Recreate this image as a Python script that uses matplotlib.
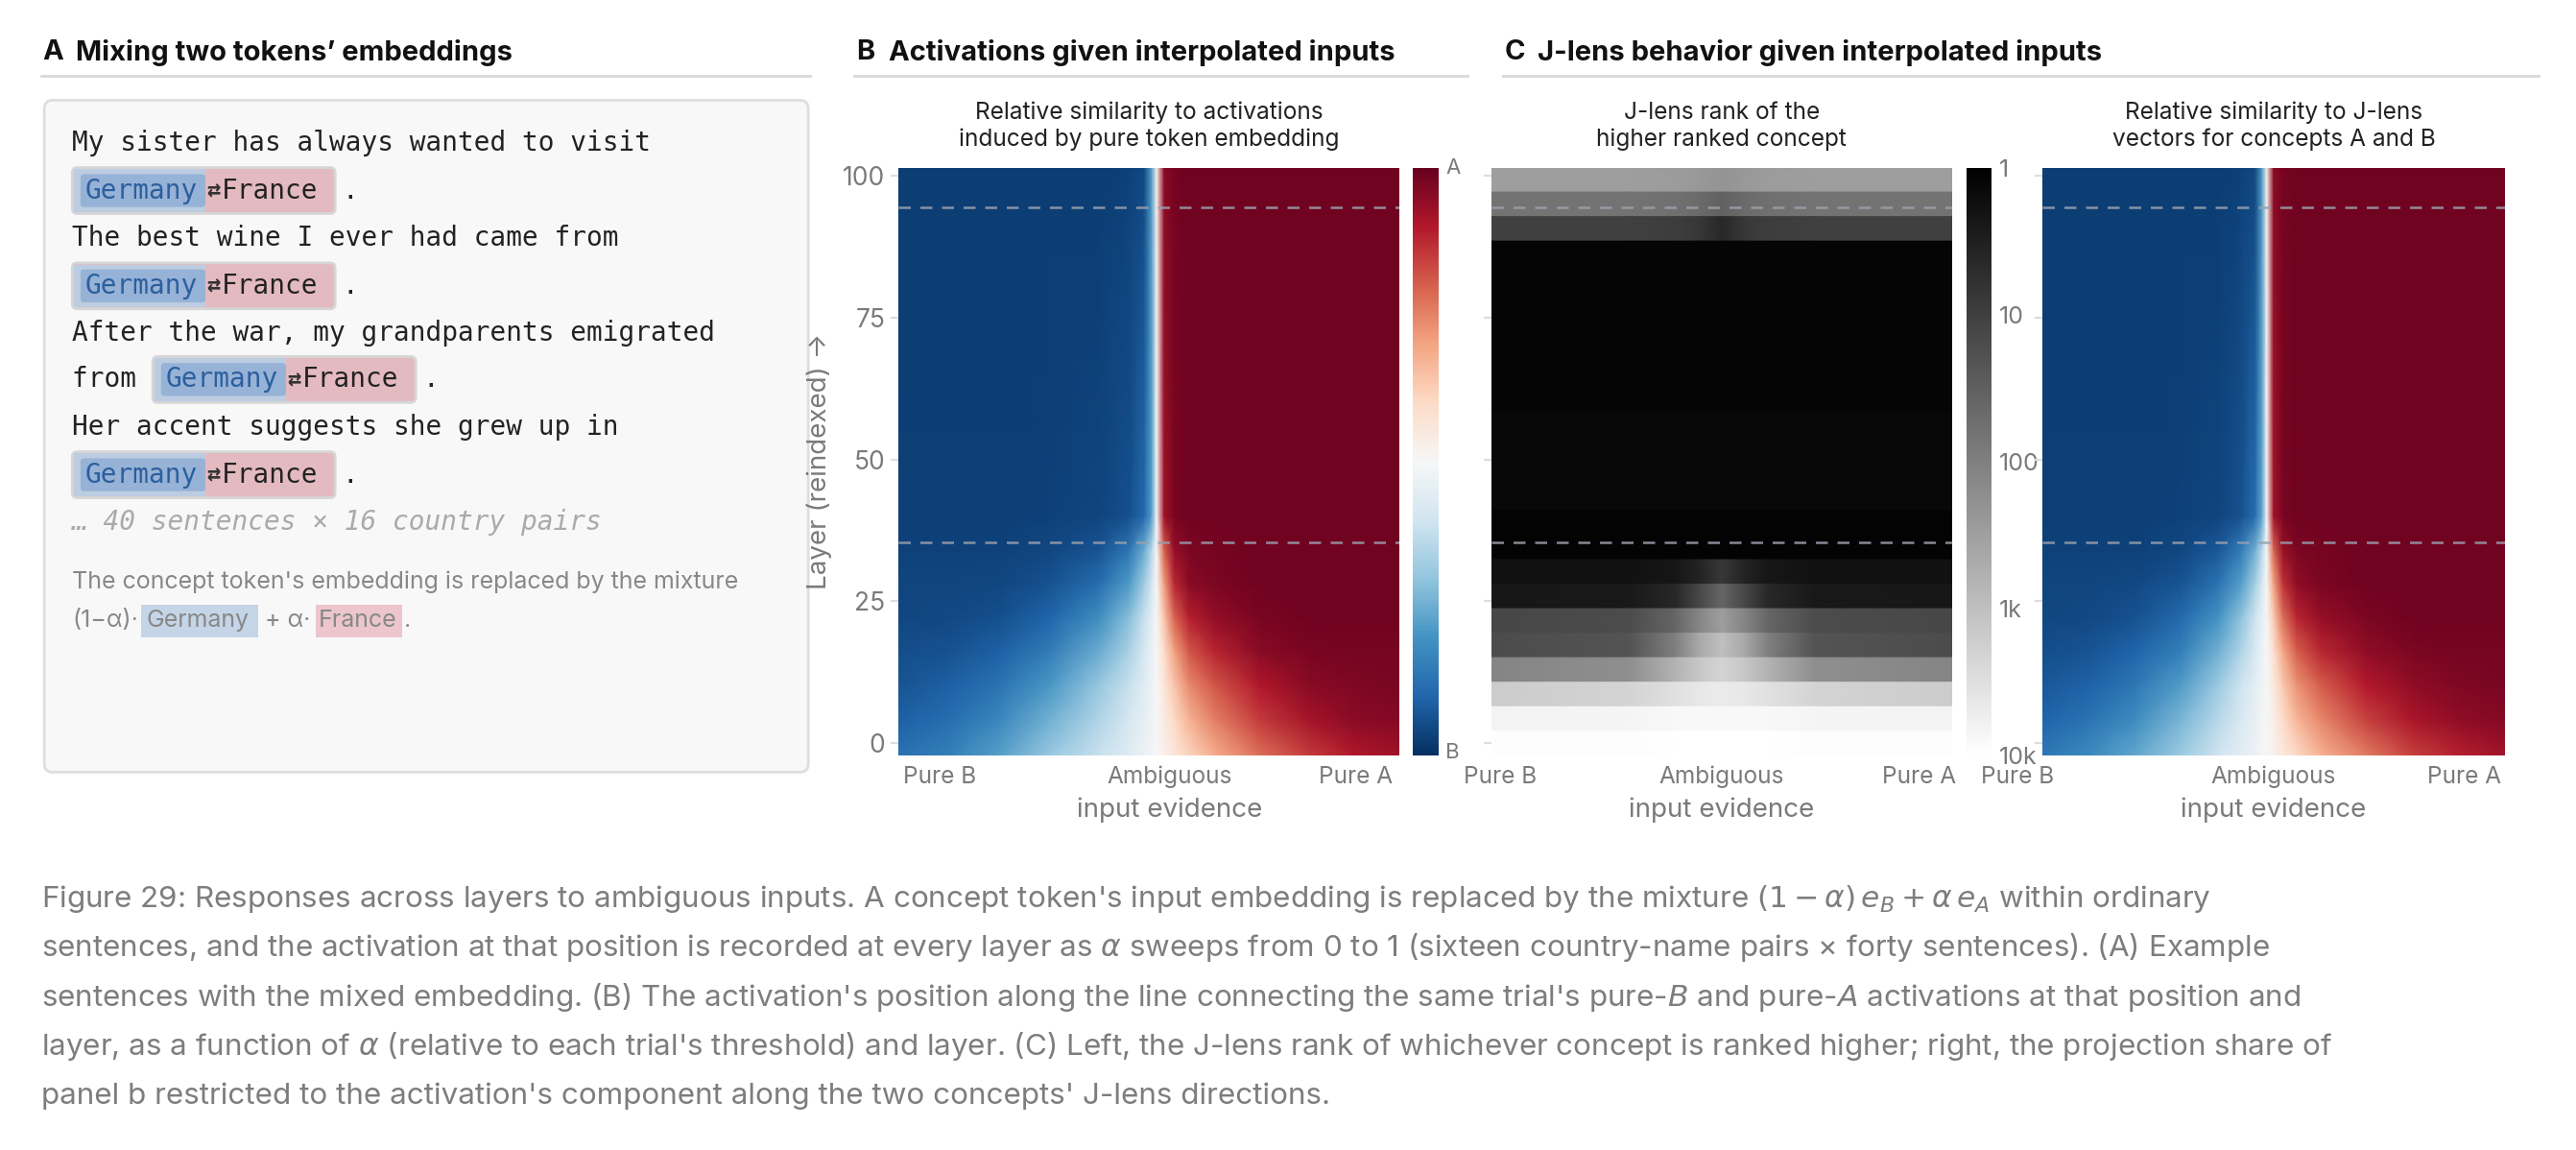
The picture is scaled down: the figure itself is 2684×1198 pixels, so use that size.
import numpy as np
import matplotlib
matplotlib.use("Agg")
import matplotlib.pyplot as plt
from matplotlib.colors import LogNorm
from matplotlib.patches import FancyBboxPatch, Rectangle

plt.rcParams['font.family'] = ['Inter', 'DejaVu Sans']

# ---------------- data ----------------
# panel B: relative similarity (-1 = pure B, +1 = pure A)
alpha_cols_b = [0, .1, .2, .3, .4, .46, .49, .505, .515, .53, .55, .58, .63, .72, .82, .91, 1]
alpha_cols = [0, .1, .2, .3, .38, .43, .46, .475, .485, .5, .52, .55, .6, .7, .8, .9, 1]
layer_rows = [-2.3, 4, 10, 16, 22, 28, 34, 40, 101.5]
sim_b = [
    [-.75, -.68, -.55, -.38, -.22, -.12, -.06, -.03, 0, .05, .12, .22, .36, .55, .7, .8, .85],
    [-.82, -.76, -.65, -.48, -.3, -.17, -.09, -.04, 0, .08, .2, .35, .5, .7, .83, .9, .92],
    [-.86, -.82, -.74, -.58, -.38, -.22, -.12, -.05, 0, .12, .28, .47, .62, .8, .9, .93, .95],
    [-.89, -.87, -.82, -.7, -.5, -.32, -.17, -.07, 0, .18, .4, .62, .76, .9, .95, .96, .96],
    [-.91, -.9, -.88, -.8, -.62, -.42, -.22, -.1, 0, .28, .58, .78, .88, .95, .97, .97, .97],
    [-.92, -.92, -.91, -.87, -.76, -.57, -.35, -.18, 0, .42, .75, .9, .94, .97, .97, .97, .97],
    [-.93, -.93, -.93, -.91, -.86, -.72, -.5, -.28, 0, .6, .87, .94, .96, .97, .97, .97, .97],
    [-.94, -.94, -.94, -.93, -.92, -.88, -.78, -.55, 0, .85, .95, .97, .97, .97, .97, .97, .97],
    [-.95, -.95, -.95, -.95, -.95, -.93, -.9, -.55, .05, .9, .96, .97, .97, .97, .97, .97, .97],
]
# panel C right: relative similarity to J-lens vectors
sim_c = [
    [-.72, -.64, -.52, -.36, -.2, -.1, -.05, -.02, 0, .04, .1, .2, .34, .52, .68, .78, .84],
    [-.8, -.74, -.63, -.46, -.28, -.15, -.08, -.03, 0, .07, .18, .33, .48, .68, .82, .89, .92],
    [-.85, -.81, -.72, -.56, -.36, -.2, -.1, -.04, 0, .1, .26, .45, .6, .79, .89, .93, .95],
    [-.89, -.86, -.8, -.68, -.48, -.3, -.15, -.06, 0, .16, .38, .6, .75, .89, .94, .96, .96],
    [-.91, -.9, -.87, -.78, -.6, -.4, -.2, -.09, 0, .26, .55, .76, .87, .94, .97, .97, .97],
    [-.92, -.92, -.9, -.86, -.74, -.55, -.33, -.16, 0, .4, .72, .89, .94, .97, .97, .97, .97],
    [-.93, -.93, -.93, -.91, -.85, -.7, -.48, -.26, 0, .58, .86, .94, .96, .97, .97, .97, .97],
    [-.94, -.94, -.94, -.93, -.92, -.87, -.76, -.52, 0, .84, .95, .97, .97, .97, .97, .97, .97],
    [-.95, -.95, -.95, -.95, -.95, -.93, -.9, -.55, .05, .9, .96, .97, .97, .97, .97, .97, .97],
]
# panel C left: J-lens rank, stored as lightness (log10(rank)/4), 24 bands top -> bottom
rank_cols = [0, .3, .4, .45, .5, .55, .6, .7, 1]
rank_light = [
    [.62, .62, .61, .6, .58, .6, .61, .62, .62],
    [.45, .45, .44, .42, .38, .42, .44, .45, .45],
    [.25, .25, .24, .22, .16, .22, .24, .25, .25],
    [.02] * 9, [.02] * 9, [.02] * 9, [.02] * 9, [.02] * 9, [.02] * 9, [.02] * 9,
    [.035] * 9, [.035] * 9, [.035] * 9, [.035] * 9,
    [.012] * 9, [.015] * 9,
    [.07, .07, .09, .14, .22, .14, .09, .07, .07],
    [.09, .1, .16, .28, .4, .28, .16, .1, .09],
    [.28, .3, .4, .52, .62, .52, .4, .3, .28],
    [.3, .33, .5, .66, .75, .66, .5, .33, .3],
    [.52, .56, .7, .78, .83, .78, .7, .56, .52],
    [.8, .83, .88, .91, .92, .91, .88, .83, .8],
    [.95, .96, .97, .97, .97, .97, .97, .96, .95],
    [.99, .99, 1, 1, 1, 1, 1, .99, .99],
]
layer_ticks = [0, 25, 50, 75, 100]
dashed_layers = [94.5, 35.3]
rank_ticks = [1, 10, 100, 1000, 10000]
rank_tick_labels = ['1', '10', '100', '1k', '10k']
x_labels = ['Pure B', 'Ambiguous', 'Pure A']

sentences = [
    ("My sister has always wanted to visit", None),
    ("", 44),
    ("The best wine I ever had came from", None),
    ("", 44),
    ("After the war, my grandparents emigrated", None),
    ("from ", 93),
    ("Her accent suggests she grew up in", None),
    ("", 44),
]

caption = [
    "Figure 29: Responses across layers to ambiguous inputs. A concept token's input embedding is replaced by the mixture $(1-\\alpha)\\,e_B+\\alpha\\,e_A$ within ordinary",
    "sentences, and the activation at that position is recorded at every layer as $\\alpha$ sweeps from 0 to 1 (sixteen country-name pairs \u00d7 forty sentences). (A) Example",
    "sentences with the mixed embedding. (B) The activation's position along the line connecting the same trial's pure-$B$ and pure-$A$ activations at that position and",
    "layer, as a function of $\\alpha$ (relative to each trial's threshold) and layer. (C) Left, the J-lens rank of whichever concept is ranked higher; right, the projection share of",
    "panel b restricted to the activation's component along the two concepts' J-lens directions.",
]

# ---------------- layout (reference pixel grid 1568 x 700) ----------------
W, H = 1568.0, 700.0
fig = plt.figure(figsize=(13.42, 5.99), dpi=200)
bg = fig.add_axes([0, 0, 1, 1])
bg.set_xlim(0, W)
bg.set_ylim(H, 0)
bg.axis('off')


def box(x0, y0, x1, y1):
    return [x0 / W, 1 - y1 / H, (x1 - x0) / W, (y1 - y0) / H]


GRAY = '#7a7a7a'
TXT = '#222222'

# section headers
for x0, x1, lbl, title in [(25, 493, 'A', "Mixing two tokens\u2019 embeddings"),
                           (520, 893, 'B', 'Activations given interpolated inputs'),
                           (915, 1545, 'C', 'J-lens behavior given interpolated inputs')]:
    bg.text(x0 + 1, 32, lbl, fontsize=10.5, fontweight='bold', color='#111', va='center')
    bg.text(x0 + 21, 32, title, fontsize=10.5, fontweight='bold', color='#111', va='center')
    bg.plot([x0, x1], [46, 46], color='#d8d8d8', lw=1)

# panel A box
bg.add_patch(FancyBboxPatch((27, 61), 465, 409, boxstyle='round,pad=0,rounding_size=5',
                            fc='#f8f8f8', ec='#dedede', lw=1))

MONO = 'DejaVu Sans Mono'


def chip(x, y):
    bg.add_patch(FancyBboxPatch((x, y - 14), 160, 28, boxstyle='round,pad=0,rounding_size=3',
                                fc='#e4bac1', ec='#d6d6d6', lw=1))
    bg.add_patch(Rectangle((x + 1, y - 13), 80, 26, fc='#bccde2', ec='none'))
    bg.add_patch(FancyBboxPatch((x + 5, y - 10), 76, 20, boxstyle='round,pad=0,rounding_size=2',
                                fc='#96b2d6', ec='none'))
    bg.text(x + 8, y, 'Germany', family=MONO, fontsize=10, color='#2c5f9e', va='center')
    bg.text(x + 82, y, '\u21c4', family=MONO, fontsize=8.5, color='#333', va='center', fontweight='bold')
    bg.text(x + 91, y, 'France', family=MONO, fontsize=10, color='#222', va='center')
    bg.text(x + 164, y, '.', family=MONO, fontsize=10, color='#222', va='center')


ys = [87, 116, 145, 174, 203, 231, 260, 289]
for (s, cx), y in zip(sentences, ys):
    if s:
        bg.text(44, y, s, family=MONO, fontsize=10, color=TXT, va='center')
    if cx is not None:
        chip(cx, y)
bg.text(44, 318, '\u2026 40 sentences \u00d7 16 country pairs', family=MONO, style='italic',
        fontsize=10, color='#aaaaaa', va='center')
bg.text(44, 354, "The concept token's embedding is replaced by the mixture", fontsize=9,
        color='#888', va='center')
bg.text(44, 378, '(1\u2212\u03b1)\u00b7', fontsize=9, color='#888', va='center')
bg.add_patch(Rectangle((86, 368), 71, 20, fc='#c5d5e8', ec='none'))
bg.text(89, 378, 'Germany', fontsize=9, color='#888', va='center')
bg.text(161, 378, '+ \u03b1\u00b7', fontsize=9, color='#888', va='center')
bg.add_patch(Rectangle((192, 368), 53, 20, fc='#ecc6cc', ec='none'))
bg.text(194, 378, 'France', fontsize=9, color='#888', va='center')
bg.text(246, 378, '.', fontsize=9, color='#888', va='center')


def heat_axes(x0, x1, title, yl=False):
    ax = fig.add_axes(box(x0, 102, x1, 460))
    ax.set_xlim(0, 1)
    ax.set_ylim(-2.3, 101.5)
    for sp in ax.spines.values():
        sp.set_visible(False)
    ax.set_xticks([])
    ax.set_yticks(layer_ticks)
    ax.tick_params(axis='y', length=3, color='#dddddd', labelsize=9.5, labelcolor=GRAY, pad=2)
    if not yl:
        ax.set_yticklabels([])
    ax.set_title(title, fontsize=8.8, color=TXT, pad=8, linespacing=1.25)
    return ax


# panel B
axb = heat_axes(547, 852, 'Relative similarity to activations\ninduced by pure token embedding', yl=True)
mb = axb.pcolormesh(alpha_cols_b, layer_rows, np.array(sim_b), cmap='RdBu_r', vmin=-1, vmax=1,
                    shading='gouraud', rasterized=True)
axb.set_ylabel('Layer (reindexed) \u2192', fontsize=10, color=GRAY, labelpad=4)

# colorbar B
cb_ax = fig.add_axes(box(860, 102, 876, 460))
fig.colorbar(mb, cax=cb_ax)
cb_ax.set_yticks([])
cb_ax.set_frame_on(False)
bg.text(880, 102, 'A', fontsize=8, color=GRAY, va='center')
bg.text(880, 458, 'B', fontsize=8, color=GRAY, va='center')

# panel C left: rank
axr = heat_axes(908, 1188, 'J-lens rank of the\nhigher ranked concept')
edges = np.linspace(101.5, -2.3, len(rank_light) + 1)
for i, row in enumerate(rank_light):
    vals = 10 ** (4 * np.array(row))
    z = np.vstack([vals, vals])
    mr = axr.pcolormesh(rank_cols, [edges[i + 1], edges[i]], z, cmap='gray',
                        norm=LogNorm(1, 1e4), shading='gouraud', rasterized=True)
cr_ax = fig.add_axes(box(1197, 102, 1212, 460))
cbr = fig.colorbar(mr, cax=cr_ax)
cr_ax.set_frame_on(False)
cr_ax.invert_yaxis()
cbr.set_ticks(rank_ticks)
cbr.set_ticklabels(rank_tick_labels)
cr_ax.minorticks_off()
cr_ax.tick_params(length=0, labelsize=9, labelcolor=GRAY, pad=3)

# panel C right
axc = heat_axes(1243, 1525, 'Relative similarity to J-lens\nvectors for concepts A and B')
axc.pcolormesh(alpha_cols, layer_rows, np.array(sim_c), cmap='RdBu_r', vmin=-1, vmax=1,
               shading='gouraud', rasterized=True)

for ax in (axb, axr, axc):
    for yl in dashed_layers:
        ax.axhline(yl, color='#9aa0ae', lw=0.9, ls=(0, (5, 4)), alpha=0.85)

# x labels
for xs, xc in [((572, 712, 825), 712), ((913, 1048, 1168), 1048), ((1228, 1384, 1500), 1384)]:
    for xv, lbl in zip(xs, x_labels):
        bg.text(xv, 473, lbl, fontsize=8.8, color=GRAY, ha='center', va='center')
    bg.text(xc, 493, 'input evidence', fontsize=10, color=GRAY, ha='center', va='center')

# caption
for i, line in enumerate(caption):
    bg.text(25, 547 + 30 * i, line, fontsize=11.3, color='#7d7d7d', va='center')

fig.savefig('out.png', dpi=200)
